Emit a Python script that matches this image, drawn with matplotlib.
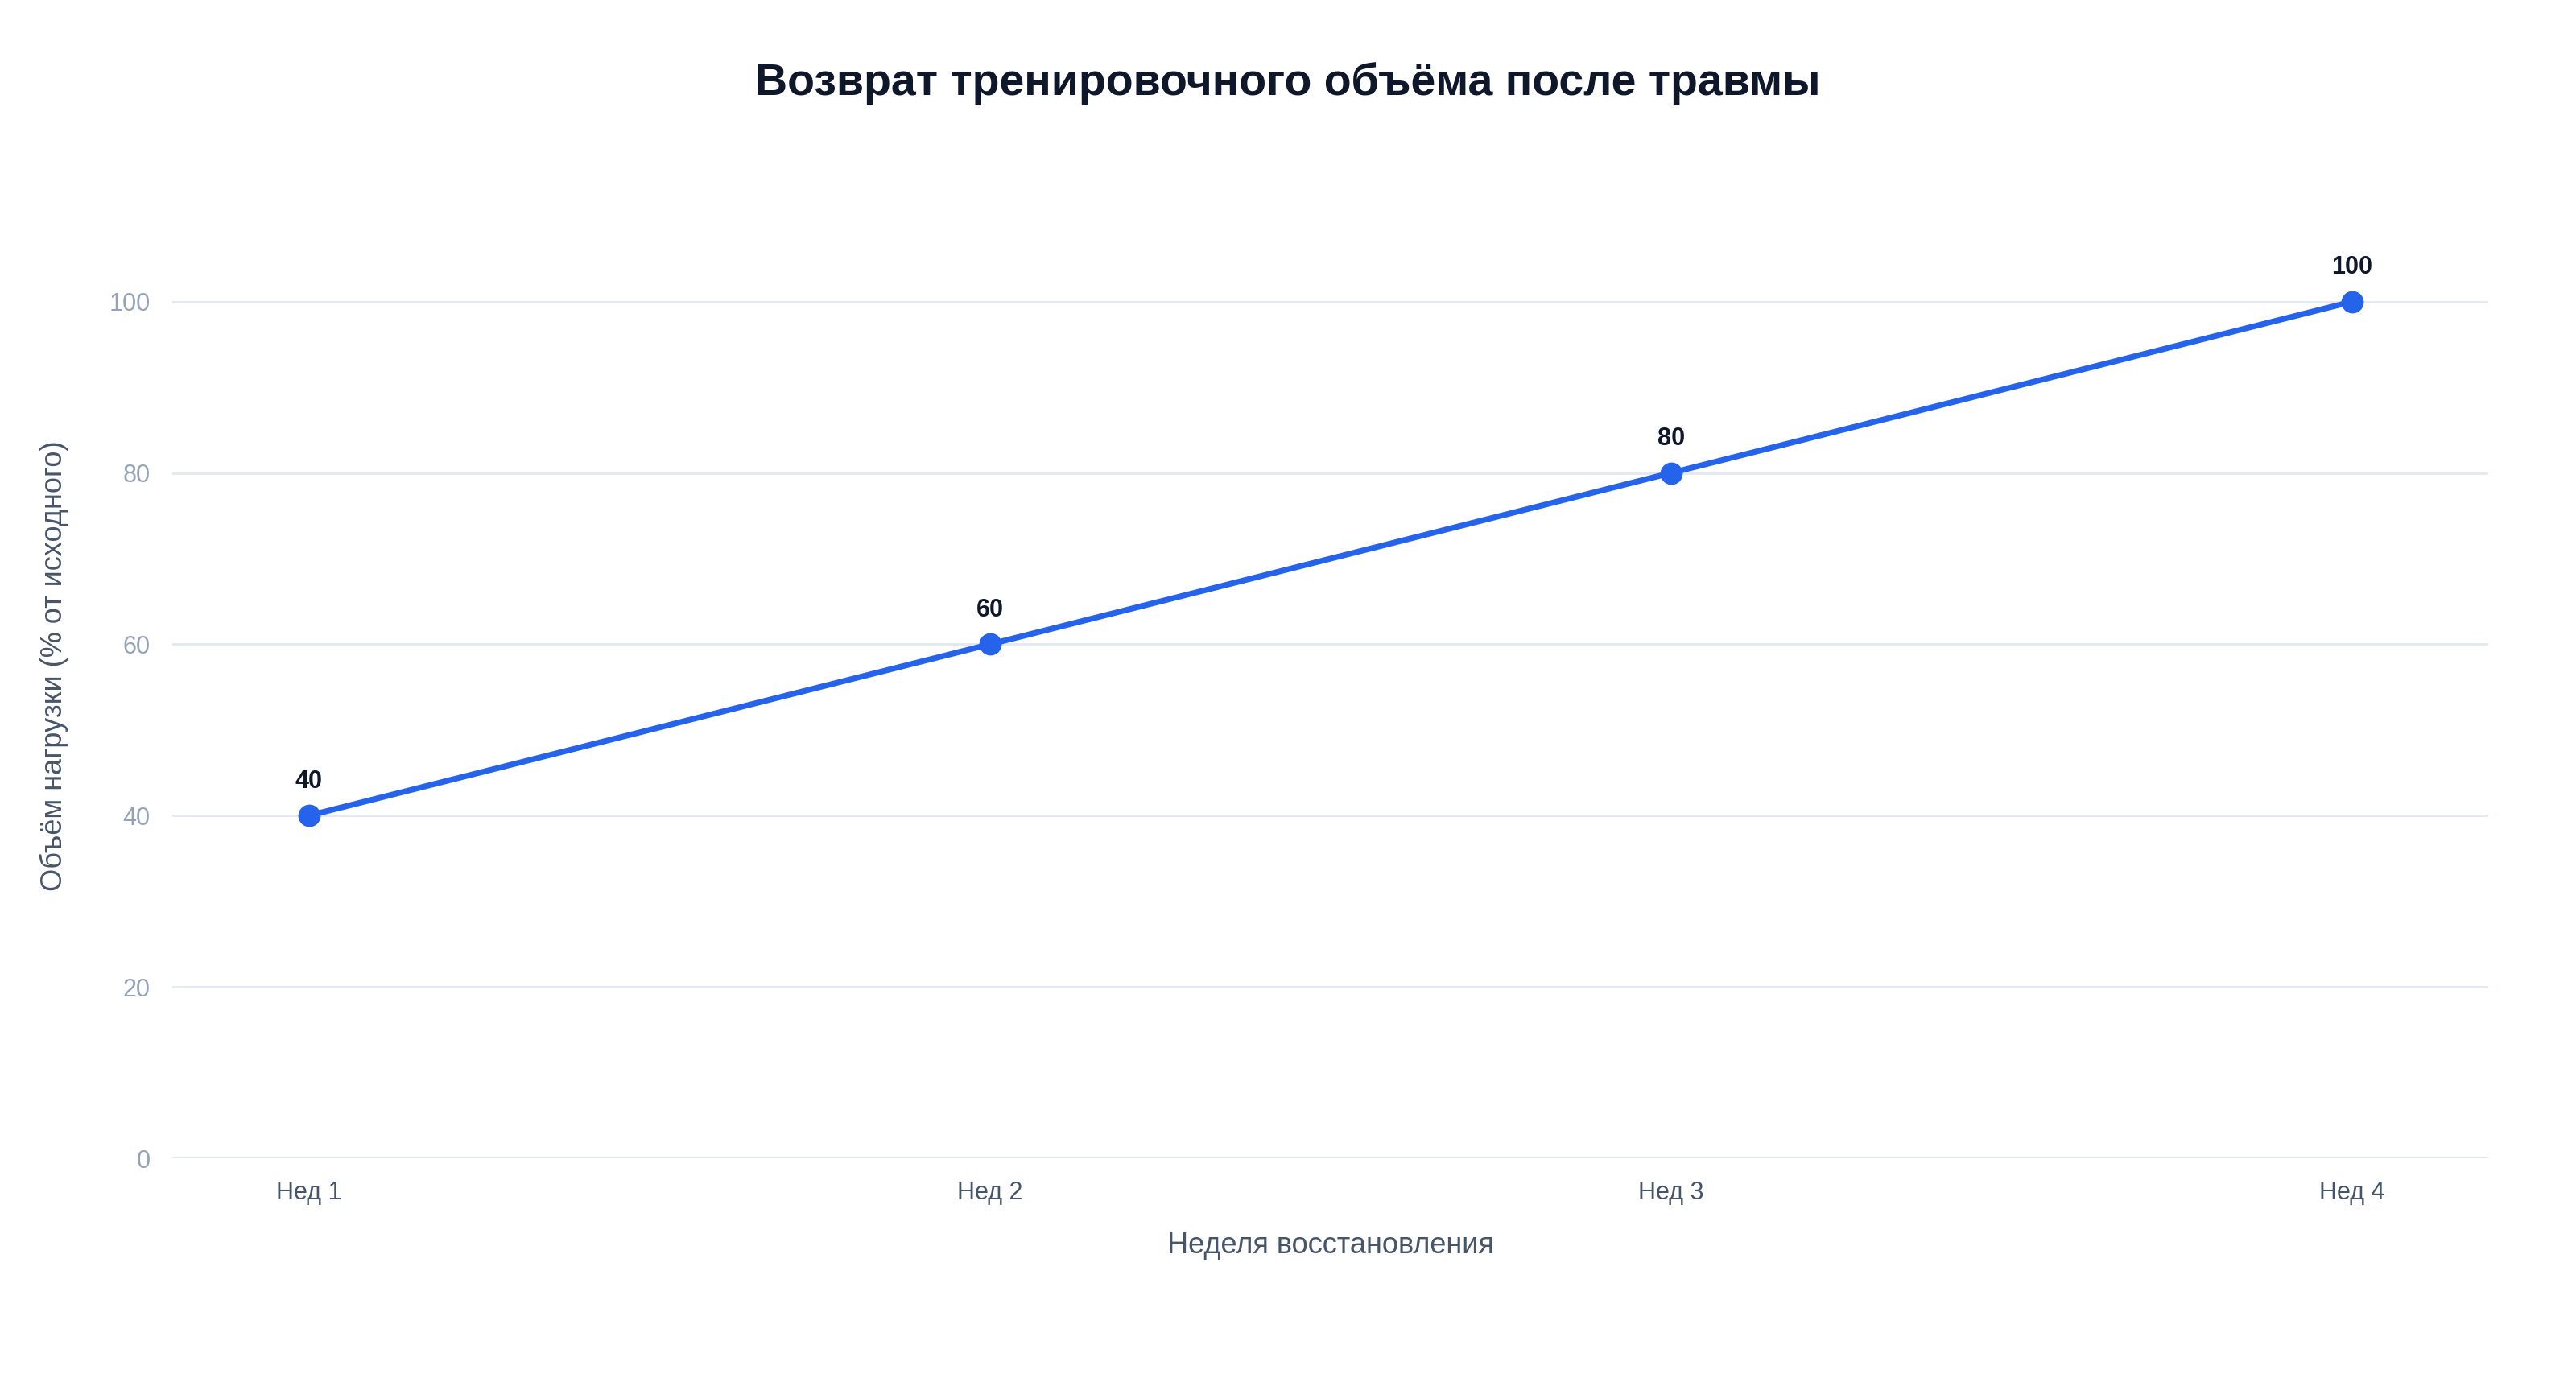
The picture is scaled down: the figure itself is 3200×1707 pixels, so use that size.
import matplotlib.pyplot as plt

plt.rcParams['font.family'] = ['Liberation Sans', 'DejaVu Sans']

weeks = ['Нед 1', 'Нед 2', 'Нед 3', 'Нед 4']
volume = [40, 60, 80, 100]

fig = plt.figure(figsize=(16, 8.535), dpi=200)
ax = fig.add_axes([0.067, 0.157, 0.899, 0.717])

x = list(range(len(weeks)))
ax.plot(x, volume, color='#2563eb', lw=2.6, marker='o', ms=9, zorder=3)
for xi, v in zip(x, volume):
    ax.annotate(str(v), (xi, v), xytext=(0, 10), textcoords='offset points',
                ha='center', va='bottom', fontsize=11, fontweight='bold', color='#0f172a')

ax.set_xlim(-0.2, 3.2)
ax.set_ylim(0, 115)
ax.set_yticks([0, 20, 40, 60, 80, 100])
ax.set_xticks(x)
ax.set_xticklabels(weeks)
ax.grid(axis='y', color='#e2e8f0', lw=1)
ax.set_axisbelow(True)
for s in ax.spines.values():
    s.set_visible(False)
ax.tick_params(length=0, pad=10)
ax.tick_params(axis='y', labelcolor='#94a3b8', labelsize=11)
ax.tick_params(axis='x', labelcolor='#475569', labelsize=11)
ax.set_xlabel('Неделя восстановления', fontsize=13, color='#475569', labelpad=12)
ax.set_ylabel('Объём нагрузки (% от исходного)', fontsize=13, color='#475569', labelpad=18)

fig.suptitle('Возврат тренировочного объёма после травмы', fontsize=20,
             fontweight='bold', color='#0f172a', y=0.955)

fig.savefig('out.png', dpi=200, facecolor='white')
